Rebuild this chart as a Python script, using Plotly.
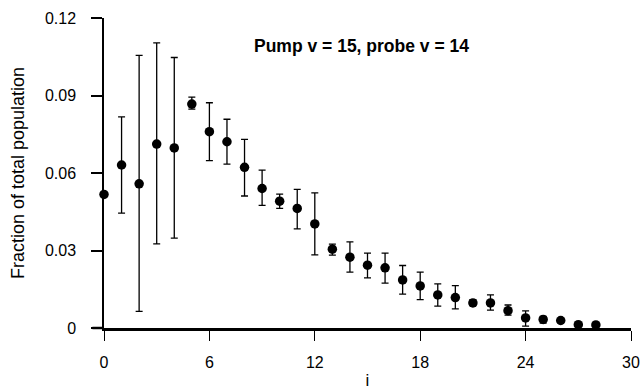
import plotly.graph_objects as go

i_vals = list(range(0, 29))
fraction = [0.0517, 0.0631, 0.0558, 0.0712, 0.0697, 0.0867, 0.0760, 0.0721, 0.0622, 0.0540,
            0.0491, 0.0463, 0.0403, 0.0305, 0.0274, 0.0243, 0.0233, 0.0186, 0.0163, 0.0128,
            0.0118, 0.0097, 0.0097, 0.0067, 0.0039, 0.0033, 0.0029, 0.0013, 0.0012]
err_upper = [0.0517, 0.0817, 0.1055, 0.1104, 0.1047, 0.0894, 0.0872, 0.0808, 0.0730, 0.0611,
             0.0518, 0.0537, 0.0523, 0.0325, 0.0333, 0.0290, 0.0290, 0.0242, 0.0216, 0.0171,
             0.0164, 0.0110, 0.0128, 0.0089, 0.0066, 0.0045, 0.0029, 0.0013, 0.0012]
err_lower = [0.0517, 0.0445, 0.0064, 0.0326, 0.0348, 0.0847, 0.0648, 0.0634, 0.0511, 0.0475,
             0.0463, 0.0384, 0.0283, 0.0282, 0.0216, 0.0194, 0.0174, 0.0131, 0.0110, 0.0085,
             0.0074, 0.0087, 0.0069, 0.0050, 0.0007, 0.0019, 0.0029, 0.0013, 0.0012]
x_ticks = [0, 6, 12, 18, 24, 30]
y_ticks = [0, 0.03, 0.06, 0.09, 0.12]
y_tick_labels = ["0", "0.03", "0.06", "0.09", "0.12"]
title_text = "Pump v = 15, probe v = 14"

plus = [u - f for u, f in zip(err_upper, fraction)]
minus = [f - l for f, l in zip(fraction, err_lower)]

FONT = "Liberation Sans, Arial, Helvetica, sans-serif"

fig = go.Figure()
fig.add_trace(go.Scatter(
    x=i_vals, y=fraction, mode="markers",
    marker=dict(color="black", size=9.5, symbol="circle"),
    error_y=dict(type="data", symmetric=False, array=plus, arrayminus=minus,
                 color="black", thickness=1.3, width=3.5),
    cliponaxis=False, showlegend=False,
))

fig.update_layout(
    template="none",
    width=643, height=390,
    margin=dict(l=104, r=12, t=18, b=62),
    paper_bgcolor="white", plot_bgcolor="white",
    font=dict(family=FONT, size=16, color="black"),
    xaxis=dict(range=[0, 30], tickvals=x_ticks, ticks="outside", ticklen=10,
               tickwidth=1.3, tickcolor="black", showline=True, linecolor="black",
               linewidth=2.5, showgrid=False, zeroline=False, automargin=False,
               ticklabelstandoff=8,
               tickfont=dict(size=16, family=FONT),
               title=dict(text="i", font=dict(size=17, family=FONT), standoff=6)),
    yaxis=dict(range=[0, 0.12], tickvals=y_ticks, ticktext=y_tick_labels,
               ticks="outside", ticklen=11, tickwidth=1.5, tickcolor="black",
               showline=True, linecolor="black", linewidth=1.5, showgrid=False,
               zeroline=False, automargin=False, ticklabelstandoff=12,
               tickfont=dict(size=16, family=FONT),
               title=dict(text="Fraction of total population",
                          font=dict(size=18, family=FONT), standoff=16)),
    annotations=[dict(text="<b>" + title_text + "</b>", xref="paper", yref="paper",
                      x=0.489, y=0.949, showarrow=False,
                      font=dict(size=17.5, family=FONT, color="black"))],
    shapes=[dict(type="line", xref="paper", yref="paper", x0=-0.022, x1=0, y0=0, y1=0,
                 line=dict(color="black", width=2.5))],
)

fig.write_html("out.html")
